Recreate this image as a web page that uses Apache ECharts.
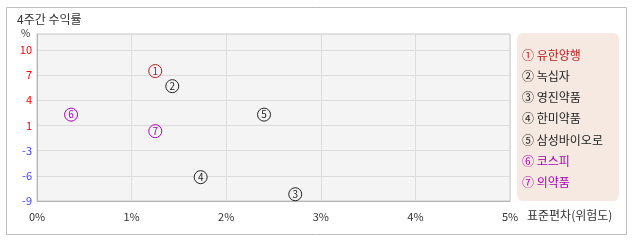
<!DOCTYPE html>
<html><head><meta charset="utf-8">
<script src="https://cdn.jsdelivr.net/npm/echarts@6/dist/echarts.min.js"></script>
<style>html,body{margin:0;padding:0;background:#fff}#c{width:638px;height:242px}</style>
</head><body><div id="c"></div>
<script>
const names = ['유한양행','녹십자','영진약품','한미약품','삼성바이오로','코스피','의약품'];
const marks = ['①','②','③','④','⑤','⑥','⑦'];
const stdDev = [1.25, 1.43, 2.73, 1.73, 2.40, 0.36, 1.25];
const returns = [7.34, 5.44, -8.15, -6.0, 1.86, 1.86, -0.22];
const colors = ['#b41e1e','#222222','#222222','#222222','#222222','#a800b8','#a800b8'];
const xTickLabels = ['0%','1%','2%','3%','4%','5%'];
const yTickLabels = ['-9','-6','-3','1','4','7','10'];
const yLabelColors = ['#3d3dff','#3d3dff','#3d3dff','#ff0000','#ff0000','#ff0000','#ff0000'];

const FONT = '"Noto Sans CJK KR", sans-serif';
const chart = echarts.init(document.getElementById('c'), null, {renderer:'canvas'});

const series = names.map((n, i) => ({
  type: 'scatter',
  name: marks[i] + ' ' + n,
  xAxisIndex: 0, yAxisIndex: 0,
  data: [[stdDev[i], returns[i]]],
  symbol: 'circle',
  symbolSize: 13,
  itemStyle: {color: '#f4f4f4', borderColor: colors[i], borderWidth: 1, opacity: 1},
  label: {show: true, position: 'inside', formatter: String(i + 1), color: colors[i], fontSize: 10, fontFamily: FONT},
  emphasis: {disabled: true},
  z: 5
}));

chart.setOption({
  animation: false,
  textStyle: {fontFamily: FONT},
  graphic: [
    {type: 'rect', shape: {x: 6.5, y: 7.5, width: 620, height: 227}, style: {fill: 'none', stroke: '#bdbdbd', lineWidth: 1}, z: -10},
    {type: 'rect', shape: {x: 517, y: 33, width: 102, height: 168, r: 6}, style: {fill: '#f5e9e2'}, z: -5},
    {type: 'text', left: 17, top: 13, style: {text: '4주간 수익률', fontSize: 12, fill: '#333', fontFamily: FONT}},
    {type: 'text', left: 21, top: 28, style: {text: '%', fontSize: 10, fill: '#333', fontFamily: FONT}},
    {type: 'text', left: 527, top: 209, style: {text: '표준편차(위험도)', fontSize: 12, fill: '#333', fontFamily: FONT}}
  ],
  legend: {
    orient: 'vertical', left: 517, top: 49, padding: 0,
    icon: 'none', itemWidth: 0, itemHeight: 12, itemGap: 9.3,
    selectedMode: false,
    data: names.map((n, i) => ({name: marks[i] + ' ' + n, textStyle: {color: colors[i], fontSize: 12, fontFamily: FONT}}))
  },
  grid: {left: 37, top: 34, right: 128, bottom: 41, show: true, backgroundColor: '#f4f4f4', borderColor: '#c8c8c8', borderWidth: 1},
  xAxis: {
    type: 'value', min: 0, max: 5, interval: 1,
    axisLine: {show: true, onZero: false, lineStyle: {color: '#b4b4b4'}},
    axisTick: {show: false},
    splitLine: {show: true, lineStyle: {color: '#dcdcdc'}},
    axisLabel: {formatter: (v, idx) => xTickLabels[idx], color: '#333', fontSize: 11, margin: 10, fontFamily: FONT}
  },
  yAxis: [
    {
      type: 'value', min: -9, max: 12,
      axisLine: {show: false}, axisTick: {show: false}, splitLine: {show: false}, axisLabel: {show: false}
    },
    {
      type: 'value', position: 'left', min: 0, max: 21, interval: 19 / 6,
      axisLine: {show: true, onZero: false, lineStyle: {color: '#b4b4b4'}},
      axisTick: {show: false},
      splitLine: {show: true, lineStyle: {color: '#dcdcdc'}},
      axisLabel: {
        showMaxLabel: false,
        formatter: (v, idx) => '{c' + idx + '|' + (yTickLabels[idx] || '') + '}',
        rich: Object.fromEntries(yLabelColors.map((c, i) => ['c' + i, {color: c, fontSize: 11, fontFamily: FONT}])),
        margin: 5
      }
    }
  ],
  series: series
});
</script>
</body></html>
